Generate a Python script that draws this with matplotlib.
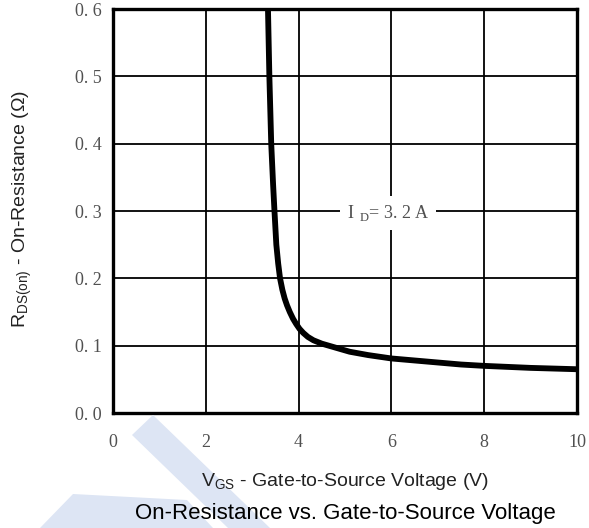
import matplotlib
matplotlib.use("Agg")
import matplotlib.pyplot as plt
from matplotlib.patches import Polygon

# Gate-to-source voltage (V) and on-resistance (ohm), ID = 3.2 A
vgs = [3.34, 3.37, 3.41, 3.45, 3.48, 3.52, 3.56, 3.60, 3.65, 3.70, 3.75, 3.81,
       3.88, 3.95, 4.02, 4.10, 4.20, 4.32, 4.50, 4.70, 4.90, 5.10, 5.50, 6.0,
       6.5, 7.0, 7.5, 8.0, 9.0, 10.0]
rds = [0.600, 0.500, 0.400, 0.340, 0.300, 0.250, 0.222, 0.200, 0.183, 0.170,
       0.160, 0.150, 0.140, 0.132, 0.125, 0.119, 0.113, 0.108, 0.103, 0.099,
       0.095, 0.091, 0.086, 0.081, 0.078, 0.075, 0.072, 0.070, 0.067, 0.065]

x_ticks = [0, 2, 4, 6, 8, 10]
y_ticks = [0.0, 0.1, 0.2, 0.3, 0.4, 0.5, 0.6]
x_tick_labels = ["0", "2", "4", "6", "8", "10"]
y_tick_labels = ["0. 0", "0. 1", "0. 2", "0. 3", "0. 4", "0. 5", "0. 6"]

W, H = 589, 528
fig = plt.figure(figsize=(W / 100, H / 100), dpi=100)
ax = fig.add_axes([113 / W, 1 - 413 / H, 464 / W, 404 / H])

# light blue logo shapes behind the lower-left area
logo = "#dde5f4"
for pts in ([(132, 435), (153, 415), (270, 528), (228, 528)],
            [(40, 528), (73, 494), (187, 500), (213, 528)]):
    fig.patches.append(Polygon([(x / W, 1 - y / H) for x, y in pts],
                               closed=True, transform=fig.transFigure,
                               facecolor=logo, edgecolor="none", zorder=0))

ax.set_xlim(0, 10)
ax.set_ylim(0, 0.6)
ax.set_xticks(x_ticks)
ax.set_yticks(y_ticks)
ax.set_xticklabels(x_tick_labels)
ax.set_yticklabels(y_tick_labels)
ax.tick_params(length=0, labelsize=13, labelcolor="#505050")
ax.tick_params(axis="x", pad=15)
ax.tick_params(axis="y", pad=8)
for lab in ax.get_xticklabels() + ax.get_yticklabels():
    lab.set_fontfamily("Liberation Serif")

ax.grid(True, color="black", linewidth=1.3)
ax.set_axisbelow(True)
for s in ax.spines.values():
    s.set_linewidth(2.4)
    s.set_color("black")

ax.plot(vgs, rds, color="black", linewidth=4.2, solid_joinstyle="round",
        solid_capstyle="butt", zorder=3)

plt.rcParams["mathtext.fontset"] = "custom"
plt.rcParams["mathtext.rm"] = "Liberation Serif"
ax.text(5.93, 0.297, r"$\mathrm{I\ }_{\mathrm{D}}$= 3. 2 A", fontsize=13,
        color="#505050", family="Liberation Serif", ha="center", va="center",
        bbox=dict(facecolor="white", edgecolor="none", pad=5), zorder=4)

fig.text(345 / W, 1 - 481 / H, r"$\mathregular{V_{GS}}$ - Gate-to-Source Voltage (V)",
         family="Liberation Sans", fontsize=14, color="#222222",
         ha="center", va="center")
fig.text(345 / W, 1 - 513 / H, "On-Resistance vs. Gate-to-Source Voltage",
         family="Liberation Sans", fontsize=16, color="black",
         ha="center", va="center")
fig.text(22 / W, 1 - 209 / H, r"$\mathregular{R_{DS(on)}}$ - On-Resistance (Ω)",
         family="Liberation Sans", fontsize=14, color="#222222",
         ha="center", va="center", rotation=90)

fig.savefig("out.png", dpi=100, facecolor="white")
